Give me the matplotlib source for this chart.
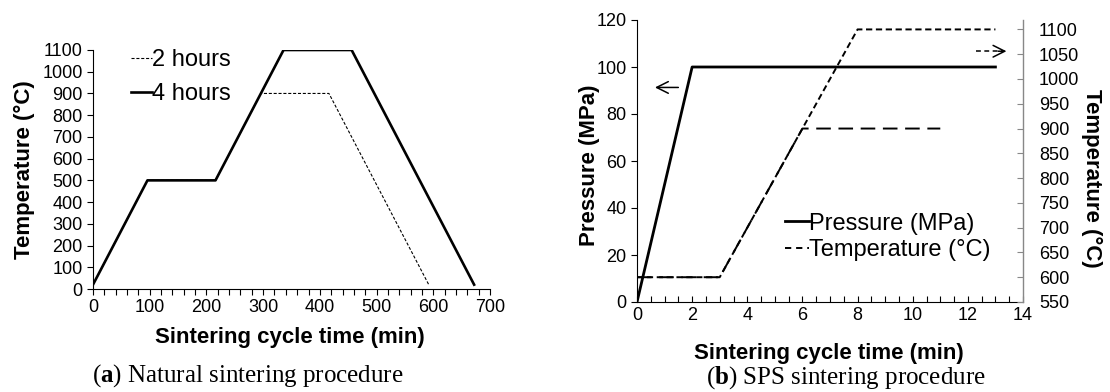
import matplotlib
matplotlib.use("Agg")
from matplotlib import pyplot as plt
from matplotlib.lines import Line2D
import numpy as np

plt.rcParams['font.family'] = ['Liberation Sans', 'DejaVu Sans']
plt.rcParams['lines.scale_dashes'] = False
plt.rcParams['mathtext.fontset'] = 'custom'
plt.rcParams['mathtext.rm'] = 'Liberation Serif'
plt.rcParams['mathtext.bf'] = 'Liberation Serif:bold'

# (a) natural sintering, time in min, temperature in degC
t_4h = [0, 96, 216, 336, 456, 672]
T_4h = [20, 500, 500, 1100, 1100, 20]
t_2h = [0, 96, 216, 296, 416, 592]
T_2h = [20, 500, 500, 900, 900, 20]

# (b) SPS sintering, time in min
t_p = [0, 2, 13]
p_mpa = [0, 100, 100]
t_900 = [0, 3, 6, 11]
T_900 = [600, 600, 900, 900]
t_1100 = [0, 3, 8, 13]
T_1100 = [600, 600, 1100, 1100]

W, H = 1110, 392
fig = plt.figure(figsize=(W / 100, H / 100), dpi=100)

def px_axes(x0, x1, top, bottom):
	return fig.add_axes([x0 / W, 1 - bottom / H, (x1 - x0) / W, (bottom - top) / H])

def px(x, y):
	return (x / W, 1 - y / H)

# ---- left panel
ax = px_axes(93, 490, 50, 289)
ax.plot(t_2h, T_2h, color="black", lw=0.8, dashes=(2.2, 1.3), label="2 hours")
ax.plot(t_4h, T_4h, color="black", lw=1.9, label="4 hours")
ax.set_xlim(0, 700)
ax.set_ylim(0, 1100)
ax.set_xticks(np.arange(0, 701, 100))
ax.set_xticks(np.arange(0, 701, 20), minor=True)
ax.set_yticks(np.arange(0, 1101, 100))
ax.tick_params(axis="both", which="both", direction="out", length=4, width=0.8, labelsize=13)
ax.spines["top"].set_visible(False)
ax.spines["right"].set_visible(False)
ax.set_xlabel("Sintering cycle time (min)", fontsize=16, fontweight="bold")
ax.xaxis.set_label_coords(0.496, -0.16)
ax.set_ylabel("Temperature (°C)", fontsize=16, fontweight="bold")
ax.yaxis.set_label_coords(-0.146, 0.5)
ax.legend(loc="center left", bbox_to_anchor=px(131, 77), bbox_transform=fig.transFigure,
	frameon=False, fontsize=17, handlelength=0.9, handletextpad=0.0, labelspacing=0.5,
	borderpad=0, borderaxespad=0)

# ---- right panel
bx = px_axes(637, 1023, 20, 302)
bx.plot(t_p, p_mpa, color="black", lw=2.0, label="Pressure (MPa)")
bx.set_xlim(0, 14)
bx.set_ylim(0, 120)
bx.set_xticks(np.arange(0, 15, 2))
bx.set_xticks(np.arange(0, 14.01, 0.5), minor=True)
bx.set_yticks(np.arange(0, 121, 20))
bx.tick_params(axis="x", which="both", direction="in", length=4, width=0.8, labelsize=13)
bx.tick_params(axis="y", direction="out", length=4, width=0.8, labelsize=13)
bx.spines["top"].set_visible(False)
bx.spines["right"].set_visible(False)
bx.set_xlabel("Sintering cycle time (min)", fontsize=16, fontweight="bold")
bx.xaxis.set_label_coords(0.497, -0.145)
bx.set_ylabel("Pressure (MPa)", fontsize=16, fontweight="bold")
bx.yaxis.set_label_coords(-0.096, 0.486)

tx = bx.twinx()
tx.plot(t_1100, T_1100, color="black", lw=1.4, dashes=(4.5, 2.6))
tx.plot(t_900, T_900, color="black", lw=1.4, dashes=(10.5, 5.5))
tx.set_ylim(550, 1119)
tx.set_yticks(np.arange(550, 1101, 50))
tx.tick_params(axis="y", direction="in", length=4, width=0.8, color="#888888", labelsize=13, pad=11.5)
for s in ["top", "left", "bottom"]:
	tx.spines[s].set_visible(False)
tx.spines["right"].set_color("#888888")
tx.spines["right"].set_linewidth(1.0)
tx.set_ylabel("Temperature (°C)", fontsize=16, fontweight="bold", rotation=-90)
tx.yaxis.set_label_coords(1.205, 0.44)

# arrows pointing to each axis
head = "->,head_length=0.6,head_width=0.3"
bx.annotate("", xy=(0.55, 91.3), xytext=(1.6, 91.3),
	arrowprops=dict(arrowstyle=head, color="black", lw=1.1, mutation_scale=14))
tx.plot([12.3, 13.3], [1056, 1056], color="black", lw=1.1, dashes=(3.5, 2.5))
tx.annotate("", xy=(13.4, 1056), xytext=(13.1, 1056),
	arrowprops=dict(arrowstyle=head, color="black", lw=1.1, mutation_scale=14,
		shrinkA=0, shrinkB=0))

h1, l1 = bx.get_legend_handles_labels()
temp_handle = Line2D([], [], color="black", lw=1.4, dashes=(4.5, 3.5))
bx.legend(h1 + [temp_handle], l1 + ["Temperature (°C)"], loc="center left",
	bbox_to_anchor=px(785, 237), bbox_transform=fig.transFigure, frameon=False, fontsize=17,
	handlelength=1.0, handletextpad=0.0, labelspacing=0.2, borderpad=0, borderaxespad=0)

# captions
cap = dict(fontsize=18, family=["Liberation Serif", "DejaVu Serif"], ha="center", va="center")
fig.text(*px(248, 376), r"($\mathbf{a}$) Natural sintering procedure", **cap)
fig.text(*px(846, 378), r"($\mathbf{b}$) SPS sintering procedure", **cap)

plt.savefig("out.png", dpi=100)
